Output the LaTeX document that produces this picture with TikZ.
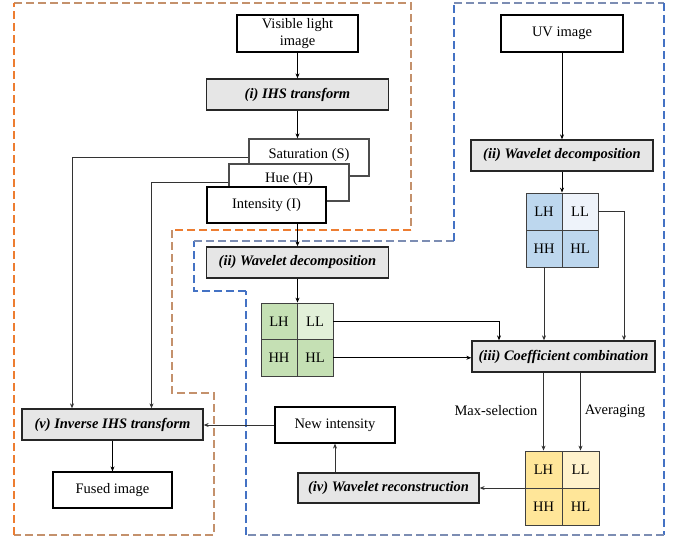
\documentclass[tikz,border=0pt]{standalone}
\usepackage{fontspec}
\setmainfont{Liberation Serif}
\usetikzlibrary{arrows.meta}
\definecolor{procgray}{HTML}{E6E6E6}
\definecolor{gdark}{HTML}{C5E0B4}
\definecolor{glight}{HTML}{E2F0D9}
\definecolor{bdark}{HTML}{BDD7EE}
\definecolor{blight}{HTML}{EEF3FA}
\definecolor{ydark}{HTML}{FFE699}
\definecolor{ylight}{HTML}{FFF2CC}
\definecolor{orng}{HTML}{ED7D31}
\definecolor{tan}{HTML}{C4916C}
\definecolor{blu}{HTML}{4472C4}
\definecolor{blugray}{HTML}{7C8DB3}
\begin{document}
\begin{tikzpicture}[x=1pt,y=-1pt,
  font=\fontsize{14.5}{17}\selectfont,
  plain/.style={draw=black,line width=1.2pt,fill=white,inner sep=0pt,align=center},
  layer/.style={draw=black!70,line width=1.3pt,fill=white,inner sep=0pt,minimum width=120pt,minimum height=37pt},
  proc/.style={draw=black!85,line width=1.3pt,fill=procgray,inner sep=0pt,minimum width=182pt,minimum height=31pt,font=\fontsize{14.5}{17}\selectfont\bfseries\itshape},
  cell/.style={draw=black!75,line width=0.8pt,inner sep=0pt},
  conn/.style={draw=black,line width=0.8pt,-{Stealth[length=5pt,width=4pt]}},
  gconn/.style={draw=black!80,line width=1pt,-{Stealth[length=5pt,width=4pt]}},
  dsh/.style={line width=1.2pt,dash pattern=on 8pt off 4pt},
  lbl/.style={inner sep=0pt}
]
\useasboundingbox (0,0) rectangle (678,539);

% dashed group frames
\draw[dsh,draw=tan] (14,3) -- (411,3) -- (411,230);
\draw[dsh,draw=orng] (411,230) -- (172,230);
\draw[dsh,draw=tan] (172,230) -- (172,393) -- (214,393) -- (214,535) -- (14,535);
\draw[dsh,draw=orng] (14,535) -- (14,3);

\draw[dsh,draw=blugray] (454,3) -- (664,3);
\draw[dsh,draw=blu] (664,3) -- (664,535);
\draw[dsh,draw=blugray] (664,535) -- (246,535);
\draw[dsh,draw=blu] (246,535) -- (246,291);
\draw[dsh,draw=blu] (246,291) -- (194,291) -- (194,241);
\draw[dsh,draw=blugray] (194,241) -- (454,241);
\draw[dsh,draw=blu] (454,241) -- (454,3);

% left column
\node[plain,minimum width=121pt,minimum height=37pt] (vis) at (297.5,33.5) {\raisebox{-1pt}{\begin{tabular}{@{}c@{}}Visible light\\image\end{tabular}}};
\node[proc] (ihs) at (297.5,94.5) {(i) IHS transform};
\node[layer] (sat) at (309,157.5) {\raisebox{-1.3pt}[0pt][0pt]{Saturation (S)}};
\node[layer] (hue) at (289,182.5) {\raisebox{0.5pt}[0pt][0pt]{Hue (H)}};
\node[layer,draw=black,minimum width=119pt,minimum height=36pt] (inten) at (266.5,205) {Intensity (I)};
\node[proc] (wdl) at (297.5,262.5) {(ii) Wavelet decomposition};

% green grid
\node[cell,fill=gdark,minimum width=36pt,minimum height=36.5pt] (gLH) at (279,321.25) {LH};
\node[cell,fill=glight,minimum width=36pt,minimum height=36.5pt] (gLL) at (315,321.25) {LL};
\node[cell,fill=gdark,minimum width=36pt,minimum height=36.5pt] (gHH) at (279,357.75) {HH};
\node[cell,fill=gdark,minimum width=36pt,minimum height=36.5pt] (gHL) at (315,357.75) {HL};

% right column
\node[plain,minimum width=122pt,minimum height=37pt] (uv) at (562,33.5) {UV image};
\node[proc] (wdr) at (562,155.5) {(ii) Wavelet decomposition};

\node[cell,fill=bdark,minimum width=36pt,minimum height=37pt] (bLH) at (544,211.5) {LH};
\node[cell,fill=blight,minimum width=36pt,minimum height=37pt] (bLL) at (580,211.5) {LL};
\node[cell,fill=bdark,minimum width=36pt,minimum height=37pt] (bHH) at (544,248.5) {HH};
\node[cell,fill=bdark,minimum width=36pt,minimum height=37pt] (bHL) at (580,248.5) {HL};

\node[proc,minimum width=183pt] (comb) at (563.5,356.5) {(iii) Coefficient combination};

\node[cell,fill=ydark,minimum width=37pt,minimum height=37pt] (yLH) at (543.5,469.5) {LH};
\node[cell,fill=ylight,minimum width=37pt,minimum height=37pt] (yLL) at (580.5,469.5) {LL};
\node[cell,fill=ydark,minimum width=37pt,minimum height=37pt] (yHH) at (543.5,506.5) {HH};
\node[cell,fill=ydark,minimum width=37pt,minimum height=37pt] (yHL) at (580.5,506.5) {HL};

\node[proc,minimum width=181pt,minimum height=30pt] (recon) at (388.5,488) {(iv) Wavelet reconstruction};
\node[plain,minimum width=120pt,minimum height=36pt] (newint) at (335,425) {New intensity};
\node[proc,minimum width=181pt] (inv) at (112.5,424.5) {(v) Inverse IHS transform};
\node[plain,minimum width=119pt,minimum height=36pt] (fused) at (112.5,490) {Fused image};

\node[lbl] (lmax) at (496,411) {Max-selection};
\node[lbl] (lavg) at (615,411) {Averaging};

% helper columns
\coordinate (xS) at (72,0);
\coordinate (xH) at (151.5,0);
\coordinate (xG) at (499,0);
\coordinate (xB) at (624,0);

% connectors
\draw[conn] (vis) -- (ihs);
\draw[conn] (ihs.south) -- (ihs.south |- sat.north);
\draw[conn] (wdl.north |- inten.south) -- (wdl.north);
\draw[conn] (wdl.south) -- (wdl.south |- gLH.north);
\draw[gconn] (sat.west) -| (xS |- inv.north);
\draw[gconn] (hue.west) -| (xH |- inv.north);
\draw[conn] (gLL.east) -| (xG |- comb.north);
\draw[conn] (gHL.east) -- (gHL.east -| comb.west);
\draw[conn] (uv) -- (wdr);
\draw[conn] (wdr.south) -- (wdr.south |- bLL.north);
\draw[gconn] (bLL.east) -| (xB |- comb.north);
\draw[gconn] (bHH.south) -- (bHH.south |- comb.north);
\draw[gconn] (yLH.north |- comb.south) -- (yLH.north);
\draw[gconn] (yLL.north |- comb.south) -- (yLL.north);
\draw[gconn] (yHH.west |- recon.east) -- (recon.east);
\draw[gconn] (recon.north -| newint.south) -- (newint.south);
\draw[gconn] (newint.west) -- (newint.west -| inv.east);
\draw[conn] (inv) -- (fused);
\end{tikzpicture}
\end{document}
